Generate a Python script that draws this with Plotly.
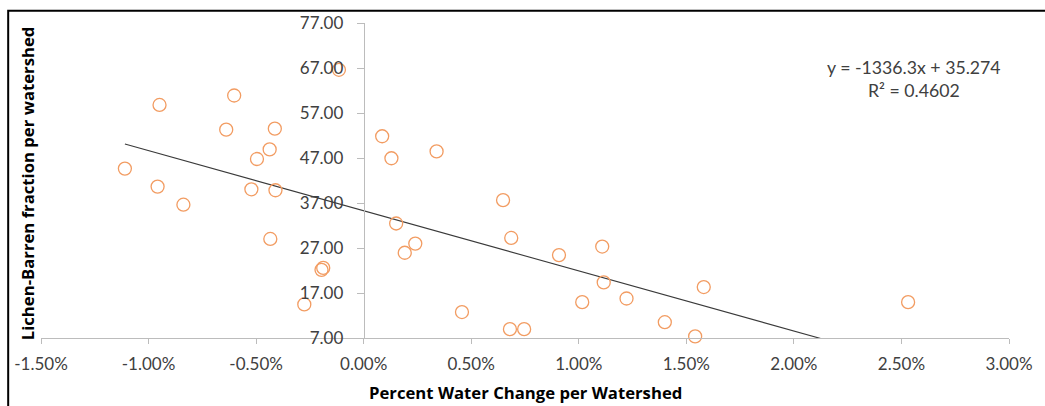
import plotly.graph_objects as go

# Percent water change per watershed (as fractions)
water_change = [-0.01110, -0.00949, -0.00958, -0.00838, -0.00602, -0.00639, -0.00413,
                -0.00437, -0.00496, -0.00522, -0.00410, -0.00434, -0.00276, -0.00188,
                -0.00196, -0.00115, 0.00086, 0.00129, 0.00339, 0.00151, 0.00191,
                0.00240, 0.00457, 0.00648, 0.00686, 0.00680, 0.00746, 0.00908,
                0.01109, 0.01116, 0.01016, 0.01222, 0.01400, 0.01541, 0.01581, 0.02531]
# Lichen-Barren fraction per watershed
lichen_barren = [44.65, 58.79, 40.64, 36.62, 60.89, 53.30, 53.52,
                 48.91, 46.78, 40.05, 39.83, 29.01, 14.46, 22.58,
                 22.14, 66.60, 51.83, 46.94, 48.47, 32.45, 25.94,
                 27.98, 12.77, 37.63, 29.23, 8.97, 8.97, 25.43,
                 27.32, 19.35, 14.96, 15.78, 10.51, 7.35, 18.32, 14.96]

# Linear trendline reported on chart
slope = -1336.3
intercept = 35.274
r_squared = 0.4602

x_tick_vals = [-0.015, -0.01, -0.005, 0.0, 0.005, 0.01, 0.015, 0.02, 0.025, 0.03]
x_tick_labels = ["-1.50%", "-1.00%", "-0.50%", "0.00%", "0.50%", "1.00%",
                 "1.50%", "2.00%", "2.50%", "3.00%"]
y_tick_vals = [7, 17, 27, 37, 47, 57, 67, 77]
y_tick_labels = ["7.00", "17.00", "27.00", "37.00", "47.00", "57.00", "67.00", "77.00"]

x_title = "Percent Water Change per Watershed"
y_title = "Lichen-Barren fraction per watershed"

FONT = "Lato"
TITLE_FONT = "Open Sans"
x_min, x_max = -0.015, 0.03
y_min, y_max = 7, 77

trend_x = [min(water_change), max(water_change)]
trend_y = [slope * v + intercept for v in trend_x]

fig = go.Figure()
fig.add_trace(go.Scatter(
    x=trend_x, y=trend_y, mode="lines",
    line=dict(color="#3A3A3A", width=1.1),
    hoverinfo="skip", showlegend=False,
))
fig.add_trace(go.Scatter(
    x=water_change, y=lichen_barren, mode="markers",
    marker=dict(symbol="circle-open", size=13, color="#F29C62",
                line=dict(width=1.3, color="#F29C62")),
    showlegend=False, cliponaxis=False,
))

axis_line = "#BCBCBC"
fig.update_layout(
    width=1045, height=406,
    margin=dict(l=41, r=30, t=19, b=68),
    paper_bgcolor="white", plot_bgcolor="white",
    font=dict(family=FONT, color="#404040", size=17),
    xaxis=dict(
        range=[x_min, x_max], tickvals=x_tick_vals, ticktext=x_tick_labels,
        showgrid=False, zeroline=False, showline=True, linecolor=axis_line,
        linewidth=1, ticks="outside", ticklen=5, tickcolor=axis_line,
        tickfont=dict(family=FONT, size=17, color="#404040"),
        ticklabelstandoff=6,
    ),
    yaxis=dict(
        range=[y_min, y_max], tickvals=y_tick_vals, ticktext=y_tick_labels,
        showgrid=False, zeroline=False, showline=True, linecolor=axis_line,
        linewidth=1, ticks="outside", ticklen=7, tickcolor=axis_line,
        anchor="free", position=(0 - x_min) / (x_max - x_min),
        tickfont=dict(family=FONT, size=17, color="#404040"),
        ticklabelstandoff=10,
    ),
)

ann_font = dict(family=FONT, size=17.7, color="#404040")
fig.add_annotation(text=f"y = {slope}x + {intercept}", xref="paper", yref="paper",
                   x=0.9015, y=0.860, showarrow=False, font=ann_font,
                   xanchor="center", yanchor="middle")
fig.add_annotation(text=f"R² = {r_squared}", xref="paper", yref="paper",
                   x=0.9015, y=0.785, showarrow=False, font=ann_font,
                   xanchor="center", yanchor="middle")
fig.add_annotation(text=f"<b>{x_title}</b>", xref="paper", yref="paper",
                   x=0.501, y=-0.1715, showarrow=False,
                   font=dict(family=TITLE_FONT, size=16.7, color="black"),
                   xanchor="center", yanchor="middle")
fig.add_annotation(text=f"<b>{y_title}</b>", xref="paper", yref="paper",
                   x=-0.0144, y=0.4915, showarrow=False, textangle=-90,
                   font=dict(family=TITLE_FONT, size=16.7, color="black"),
                   xanchor="center", yanchor="middle")

# Outer chart border (extends past the right and bottom edges of the view)
fig.add_shape(type="rect", xref="paper", yref="paper",
              x0=-0.0339, y0=-0.4, x1=1.2, y1=1.0386,
              line=dict(color="black", width=2), fillcolor="rgba(0,0,0,0)",
              layer="above")

fig.write_html("out.html")
